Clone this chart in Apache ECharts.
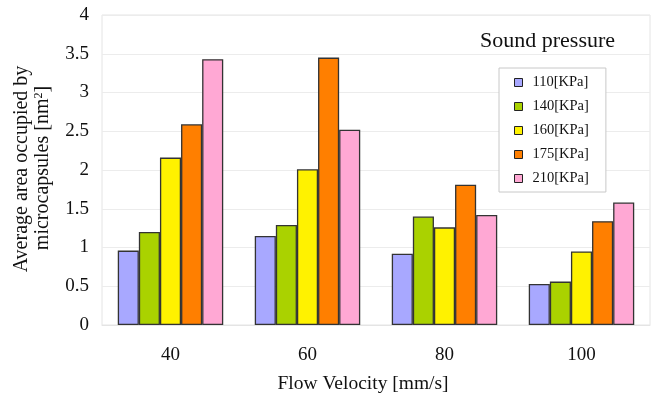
<!DOCTYPE html>
<html><head><meta charset="utf-8">
<script src="https://cdn.jsdelivr.net/npm/echarts@6/dist/echarts.min.js"></script>
<style>html,body{margin:0;padding:0;background:#fff}#c{width:653px;height:401px}</style>
</head><body><div id="c"></div>
<script>
const categories = ['40', '60', '80', '100'];
const seriesNames = ['110[KPa]', '140[KPa]', '160[KPa]', '175[KPa]', '210[KPa]'];
const s110 = [0.96, 1.15, 0.92, 0.53];
const s140 = [1.20, 1.29, 1.40, 0.56];
const s160 = [2.16, 2.01, 1.26, 0.95];
const s175 = [2.59, 3.45, 1.81, 1.34];
const s210 = [3.43, 2.52, 1.42, 1.58];
const colors = ['#a8a8ff', '#aad200', '#fff200', '#ff7f00', '#ffa8d4'];
const allData = [s110, s140, s160, s175, s210];
const font = '"Liberation Serif", "Times New Roman", serif';

const chart = echarts.init(document.getElementById('c'));
chart.setOption({
  animation: false,
  textStyle: { fontFamily: font },
  grid: { left: 102, right: 3, top: 15, bottom: 76, show: true, borderColor: '#e4e4e4', borderWidth: 1 },
  title: {
    text: 'Sound pressure', left: 480, top: 30, padding: 0,
    textStyle: { fontFamily: font, fontSize: 22, fontWeight: 'normal', color: '#111' }
  },
  legend: {
    orient: 'vertical', left: 499, top: 68,
    backgroundColor: '#fff', borderColor: '#c8c8c8', borderWidth: 1,
    padding: [7, 17, 6, 15],
    itemWidth: 8, itemHeight: 8, itemGap: 9,
    icon: 'rect',
    itemStyle: { borderColor: '#222', borderWidth: 1 },
    textStyle: { fontFamily: font, fontSize: 14.5, color: '#111', padding: [0, 0, 0, 5] },
    data: seriesNames
  },
  xAxis: {
    type: 'category', data: categories,
    axisLine: { show: true, lineStyle: { color: '#e4e4e4' } },
    axisTick: { show: false },
    axisLabel: { fontFamily: font, fontSize: 19, color: '#111', margin: 21 }
  },
  yAxis: {
    type: 'value', min: 0, max: 4, interval: 0.5,
    axisLine: { show: false }, axisTick: { show: false },
    splitLine: { lineStyle: { color: '#ececec' } },
    axisLabel: { fontFamily: font, fontSize: 19, color: '#111', margin: 13 }
  },
  graphic: [
    {
      type: 'text', x: 363, y: 384,
      style: { text: 'Flow Velocity [mm/s]', font: '19.5px ' + font, fill: '#111', align: 'center', verticalAlign: 'middle' }
    },
    {
      type: 'text', x: 22, y: 169, rotation: Math.PI / 2,
      style: { text: 'Average area occupied by', font: '20px ' + font, fill: '#111', align: 'center', verticalAlign: 'middle' }
    },
    {
      type: 'text', x: 43, y: 168, rotation: Math.PI / 2,
      style: {
        text: '{a|microcapsules [nm}{s|2}{a|]}', align: 'center', verticalAlign: 'middle',
        rich: {
          a: { font: '20px ' + font, fill: '#111', verticalAlign: 'middle' },
          s: { font: '12px ' + font, fill: '#111', verticalAlign: 'top', padding: [0, 0, 9, 0] }
        }
      }
    }
  ],
  series: allData.map((d, i) => ({
    name: seriesNames[i], type: 'bar', data: d,
    barGap: '0%', barCategoryGap: '23%',
    itemStyle: { color: colors[i], borderColor: '#333', borderWidth: 1.3 }
  }))
});
</script></body></html>
